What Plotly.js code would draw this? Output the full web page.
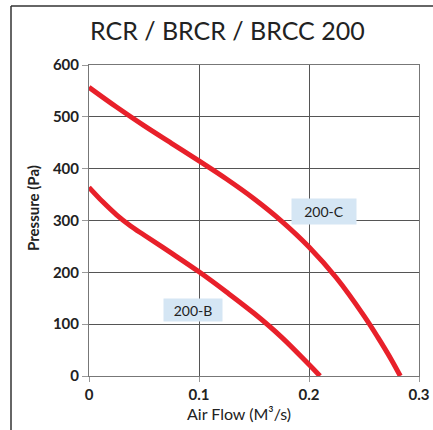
<!DOCTYPE html>
<html>
<head>
<meta charset="utf-8">
<script src="https://cdn.plot.ly/plotly-3.0.1.min.js"></script>
<style>html,body{margin:0;padding:0;background:#fff;}#chart{width:433px;height:430px;}</style>
</head>
<body>
<div id="chart"></div>
<script>
var titleText = "RCR / BRCR / BRCC 200";
var xTitle = "Air Flow (M³/s)";
var yTitle = "Pressure (Pa)";
var xTicks = [0, 0.1, 0.2, 0.3];
var xTickLabels = ["0", "0.1", "0.2", "0.3"];
var yTicks = [0, 100, 200, 300, 400, 500, 600];

var flowB = [0, 0.0125, 0.025, 0.0375, 0.05, 0.075, 0.1, 0.125, 0.15, 0.175, 0.2, 0.21];
var pressB = [364, 336, 311, 290, 272, 237, 201, 162, 121, 75, 22, 0];
var flowC = [0, 0.025, 0.05, 0.075, 0.1, 0.125, 0.15, 0.175, 0.2, 0.225, 0.25, 0.2625, 0.275, 0.283];
var pressC = [557, 519, 483, 449, 415, 380, 342, 299, 249, 189, 116, 75, 31, 0];

var labelB = {text: "200-B", x: 0.0945, y: 128};
var labelC = {text: "200-C", x: 0.214, y: 318};

var fontFam = "Lato, 'DejaVu Sans', sans-serif";
var red = "#e8202a";

var traces = [
  {x: flowB, y: pressB, mode: "lines", line: {color: red, width: 5, shape: "spline", smoothing: 1}, hoverinfo: "skip"},
  {x: flowC, y: pressC, mode: "lines", line: {color: red, width: 5, shape: "spline", smoothing: 1}, hoverinfo: "skip"}
];

var layout = {
  width: 433, height: 430,
  margin: {l: 89, r: 14, t: 65, b: 54},
  paper_bgcolor: "#fff", plot_bgcolor: "#fff",
  showlegend: false,
  font: {family: fontFam, color: "#222"},
  xaxis: {
    range: [0, 0.3], tickvals: xTicks, ticktext: xTickLabels,
    showgrid: true, gridcolor: "#555", gridwidth: 1,
    zeroline: false, showline: true, linecolor: "#777", linewidth: 1, mirror: true,
    ticks: "outside", ticklen: 5, tickcolor: "#999",
    tickfont: {family: fontFam, size: 15, color: "#222", weight: "bold"}
  },
  yaxis: {
    range: [0, 600], tickvals: yTicks,
    showgrid: true, gridcolor: "#555", gridwidth: 1,
    zeroline: false, showline: true, linecolor: "#777", linewidth: 1, mirror: true,
    ticks: "outside", ticklen: 6, tickcolor: "#999",
    tickfont: {family: fontFam, size: 15, color: "#222", weight: "bold"}
  },
  annotations: [
    {xref: "paper", yref: "paper", x: (227 - 89) / 330, y: (376 - 30) / 311, text: titleText, showarrow: false,
     font: {family: fontFam, size: 25, color: "#222"}, xanchor: "center", yanchor: "middle"},
    {xref: "paper", yref: "paper", x: (239 - 89) / 330, y: (376 - 413) / 311, text: xTitle, showarrow: false,
     font: {family: fontFam, size: 16, color: "#222"}, xanchor: "center", yanchor: "middle"},
    {xref: "paper", yref: "paper", x: (33 - 89) / 330, y: (376 - 208) / 311, text: yTitle, showarrow: false, textangle: -90,
     font: {family: fontFam, size: 15, color: "#222", weight: "bold"}, xanchor: "center", yanchor: "middle"},
    {x: labelB.x, y: labelB.y, text: labelB.text, showarrow: false, bgcolor: "#d5e6f4", width: 56, height: 20,
     font: {family: fontFam, size: 14, color: "#222"}},
    {x: labelC.x, y: labelC.y, text: labelC.text, showarrow: false, bgcolor: "#d5e6f4", width: 62, height: 23,
     font: {family: fontFam, size: 14, color: "#222"}}
  ],
  shapes: [
    {type: "line", xref: "paper", yref: "paper", x0: (11 - 89) / 330, x1: (11 - 89) / 330, y0: (376 - 6) / 311, y1: -0.3, line: {color: "#333", width: 1.5}},
    {type: "line", xref: "paper", yref: "paper", x0: (11 - 89) / 330, x1: 1.2, y0: (376 - 6) / 311, y1: (376 - 6) / 311, line: {color: "#333", width: 1.5}}
  ]
};

Plotly.newPlot("chart", traces, layout, {staticPlot: true, displayModeBar: false});
</script>
</body>
</html>
